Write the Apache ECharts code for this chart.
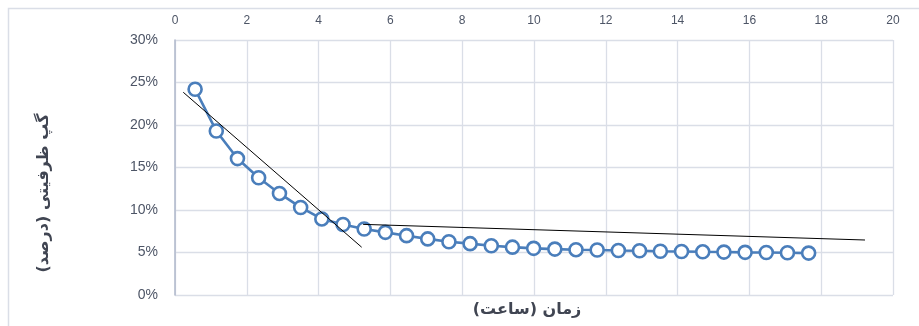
<!DOCTYPE html>
<html>
<head>
<meta charset="utf-8">
<script src="https://cdn.jsdelivr.net/npm/echarts@6/dist/echarts.min.js"></script>
<style>
  html, body { margin: 0; padding: 0; background: #ffffff; }
  #chart { width: 919px; height: 326px; }
</style>
</head>
<body>
<div id="chart"></div>
<script>
// Elapsed time (hours) for each measurement
const hours = [0.56, 1.15, 1.74, 2.33, 2.91, 3.50, 4.09, 4.68, 5.27, 5.86,
               6.45, 7.04, 7.63, 8.22, 8.81, 9.40, 9.99, 10.58, 11.17, 11.76,
               12.35, 12.94, 13.52, 14.11, 14.70, 15.29, 15.88, 16.47, 17.06, 17.65];
// Capacity gap (%) at each time
const gapPercent = [24.2, 19.3, 16.05, 13.8, 11.95, 10.3, 8.95, 8.3, 7.76, 7.37,
                    6.98, 6.6, 6.27, 6.04, 5.8, 5.63, 5.49, 5.4, 5.33, 5.29,
                    5.24, 5.2, 5.15, 5.12, 5.08, 5.05, 5.02, 5.0, 4.97, 4.93];
// Tangent lines: fast early decline and slow late decline
const trendFast = [[0.23, 23.85], [5.2, 5.62]];
const trendSlow = [[5.24, 8.31], [19.22, 6.47]];
// Axis ticks
const xTicks = { min: 0, max: 20, step: 2 };
const yTicks = { min: 0, max: 30, step: 5 };

const titleX = 'زمان (ساعت)';
const titleY = 'گپ ظرفیتی (درصد)';

const gridColor = '#dadee7';
const blue = '#4a7ebb';
const labelColor = '#4d5566';

const chart = echarts.init(document.getElementById('chart'), null, { renderer: 'canvas' });

chart.setOption({
  animation: false,
  backgroundColor: '#ffffff',
  grid: { left: 175, right: 26, top: 40, bottom: 31, containLabel: false },
  xAxis: {
    type: 'value',
    position: 'top',
    min: xTicks.min, max: xTicks.max, interval: xTicks.step,
    axisLine: { show: false },
    axisTick: { show: false },
    axisLabel: { color: labelColor, fontSize: 12, fontFamily: 'Liberation Sans', margin: 13 },
    splitLine: { show: true, lineStyle: { color: gridColor, width: 1.3 } }
  },
  yAxis: {
    type: 'value',
    min: yTicks.min, max: yTicks.max, interval: yTicks.step,
    axisLine: { show: true, lineStyle: { color: '#b3bccd', width: 1.6 } },
    axisTick: { show: false },
    axisLabel: { color: labelColor, fontSize: 14, fontFamily: 'Liberation Sans', margin: 17, formatter: '{value}%' },
    splitLine: { show: true, lineStyle: { color: gridColor, width: 1.3 } }
  },
  series: [
    {
      type: 'line',
      data: hours.map((h, i) => [h, gapPercent[i]]),
      symbol: 'circle',
      symbolSize: 13,
      lineStyle: { color: blue, width: 2.6 },
      itemStyle: { color: '#ffffff', borderColor: blue, borderWidth: 2.6 },
      z: 2
    },
    {
      type: 'line',
      data: trendFast,
      symbol: 'none',
      lineStyle: { color: '#000000', width: 1 },
      z: 3
    },
    {
      type: 'line',
      data: trendSlow,
      symbol: 'none',
      lineStyle: { color: '#000000', width: 1 },
      z: 3
    }
  ],
  graphic: [
    {
      type: 'rect',
      shape: { x: 8.5, y: 8.5, width: 960, height: 400 },
      style: { fill: 'none', stroke: gridColor, lineWidth: 1.5 },
      silent: true, z: -1
    },
    {
      type: 'text',
      x: 527, y: 310,
      style: {
        text: titleX, fill: '#404552',
        font: 'bold 16px "DejaVu Sans"',
        align: 'center', verticalAlign: 'middle'
      }
    },
    {
      type: 'text',
      x: 44, y: 193,
      rotation: Math.PI / 2,
      style: {
        text: titleY, fill: '#404552',
        font: 'bold 16px "DejaVu Sans"',
        align: 'center', verticalAlign: 'middle'
      }
    }
  ]
});
</script>
</body>
</html>
